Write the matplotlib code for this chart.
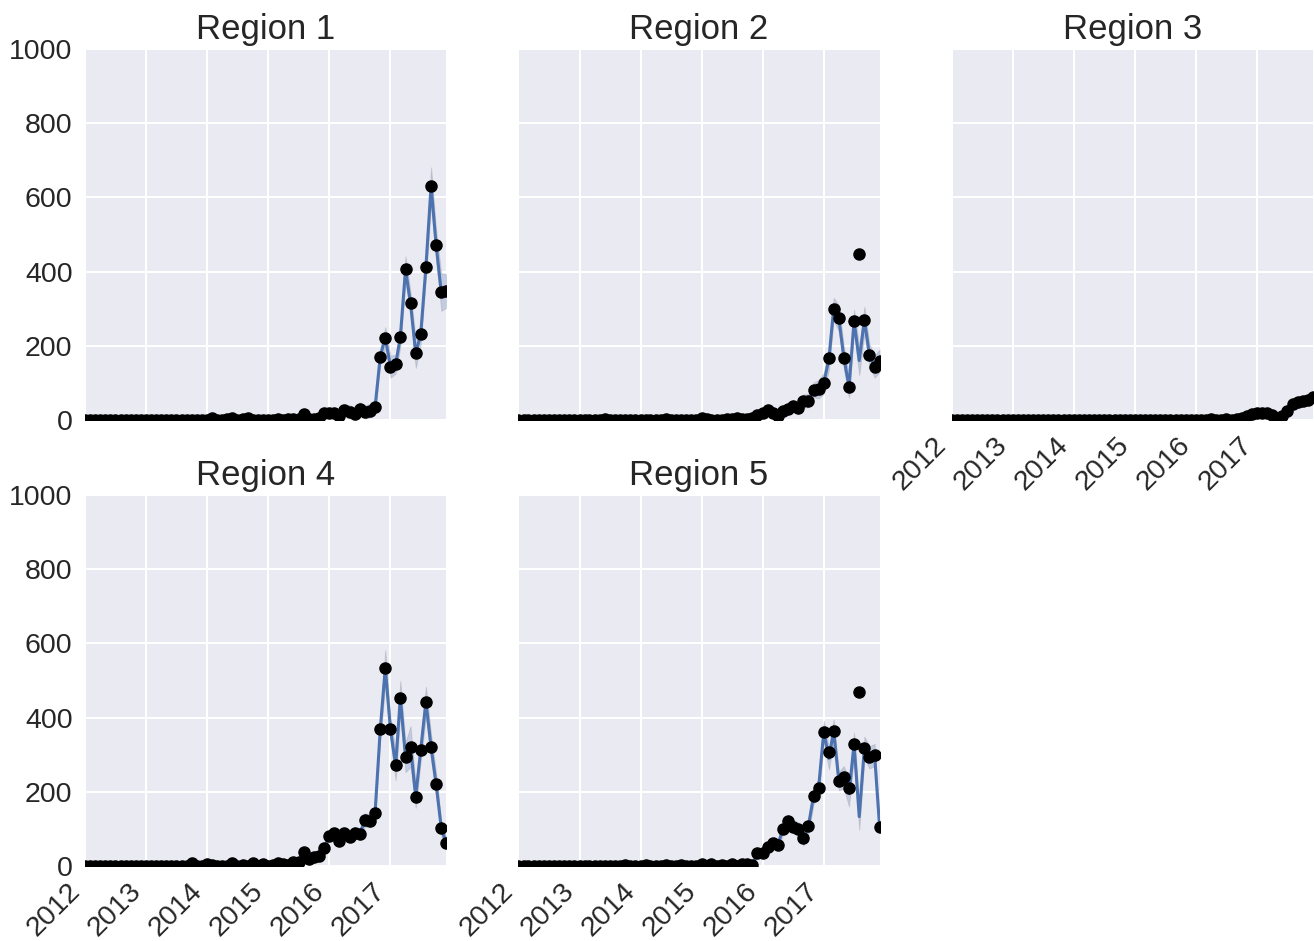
import numpy as np
import pandas as pd
import matplotlib
matplotlib.use("Agg")
import matplotlib.pyplot as plt

# monthly counts, Jan 2012 .. Dec 2017
months = pd.date_range("2012-01-01", periods=72, freq="MS")
tick_years = ["2012", "2013", "2014", "2015", "2016", "2017"]
titles = ["Region 1", "Region 2", "Region 3", "Region 4", "Region 5"]

r1_obs = [0, 0, 0, 0, 0, 0, 0, 0, 0, 0, 0, 0,
          0, 0, 0, 0, 1, 0, 0, 0, 0, 0, 1, 0,
          1, 5, 1, 0, 2, 6, 1, 2, 5, 1, 0, 1,
          0, 1, 3, 1, 2, 4, 2, 15, 2, 3, 5, 20,
          18, 18, 12, 27, 22, 17, 30, 22, 25, 35, 171, 222,
          144, 150, 223, 406, 314, 180, 231, 412, 631, 472, 344, 348]
r1_fit = r1_obs
r1_ci = [1, 1, 1, 1, 1, 1, 1, 1, 1, 1, 1, 1,
         1, 1, 1, 1, 1, 1, 1, 1, 1, 1, 1, 1,
         2, 2, 2, 2, 2, 2, 2, 2, 2, 2, 2, 2,
         2, 2, 2, 2, 2, 3, 3, 5, 4, 5, 6, 10,
         14, 14, 14, 16, 18, 18, 18, 18, 18, 20, 22, 28,
         30, 25, 25, 35, 30, 40, 28, 30, 50, 40, 50, 45]

r2_obs = [0, 0, 0, 0, 0, 0, 0, 0, 0, 0, 0, 0,
          0, 0, 0, 0, 0, 3, 1, 0, 0, 0, 0, 0,
          0, 0, 0, 0, 0, 3, 1, 0, 0, 0, 0, 1,
          5, 4, 1, 0, 1, 2, 2, 5, 3, 2, 6, 13,
          18, 27, 18, 12, 25, 29, 39, 31, 51, 52, 81, 83,
          99, 166, 299, 274, 168, 90, 267, 447, 270, 175, 144, 160]
r2_fit = [0, 0, 0, 0, 0, 0, 0, 0, 0, 0, 0, 0,
          0, 0, 0, 0, 0, 3, 1, 0, 0, 0, 0, 0,
          0, 0, 0, 0, 0, 3, 1, 0, 0, 0, 0, 1,
          5, 4, 1, 0, 1, 2, 2, 5, 3, 2, 6, 13,
          18, 27, 18, 12, 25, 29, 39, 31, 51, 52, 81, 83,
          99, 166, 299, 274, 168, 90, 267, 160, 270, 175, 144, 160]
r2_ci = [1, 1, 1, 1, 1, 1, 1, 1, 1, 1, 1, 1,
         1, 1, 1, 1, 1, 1, 1, 1, 1, 1, 1, 1,
         1, 1, 1, 1, 1, 1, 1, 1, 1, 1, 1, 1,
         2, 2, 2, 2, 2, 2, 2, 3, 3, 3, 5, 8,
         10, 10, 10, 10, 12, 12, 14, 14, 18, 18, 20, 25,
         28, 30, 30, 35, 30, 30, 30, 40, 35, 30, 30, 30]

r3_obs = [0, 0, 0, 0, 0, 0, 0, 0, 0, 0, 0, 0,
          0, 0, 0, 0, 0, 0, 0, 0, 0, 0, 0, 0,
          0, 0, 0, 0, 0, 0, 0, 0, 0, 0, 0, 0,
          0, 0, 0, 0, 0, 0, 0, 0, 0, 0, 0, 0,
          0, 0, 0, 3, 0, 0, 2, 0, 2, 5, 12, 17,
          20, 18, 20, 14, 5, 10, 25, 43, 48, 52, 55, 62]
r3_fit = r3_obs
r3_ci = [0, 0, 0, 0, 0, 0, 0, 0, 0, 0, 0, 0,
         0, 0, 0, 0, 0, 0, 0, 0, 0, 0, 0, 0,
         0, 0, 0, 0, 0, 0, 0, 0, 0, 0, 0, 0,
         1, 1, 1, 1, 1, 1, 1, 1, 1, 1, 1, 1,
         1, 1, 1, 2, 1, 1, 2, 1, 2, 3, 4, 5,
         5, 5, 5, 5, 5, 5, 6, 8, 8, 9, 10, 12]

r4_obs = [0, 0, 0, 0, 0, 0, 0, 0, 0, 0, 0, 0,
          0, 0, 0, 0, 0, 0, 0, 0, 0, 7, 0, 0,
          5, 3, 0, 0, 0, 8, 0, 3, 0, 9, 0, 5,
          0, 4, 7, 5, 3, 12, 10, 37, 18, 23, 27, 48,
          81, 88, 67, 88, 79, 90, 85, 124, 122, 144, 368, 534,
          368, 271, 454, 293, 322, 187, 313, 443, 320, 221, 102, 61]
r4_fit = r4_obs
r4_ci = [1, 1, 1, 1, 1, 1, 1, 1, 1, 1, 1, 1,
         1, 1, 1, 1, 1, 1, 1, 1, 1, 2, 1, 1,
         2, 2, 2, 2, 2, 2, 2, 2, 2, 2, 2, 2,
         2, 2, 3, 3, 3, 4, 4, 6, 5, 6, 7, 10,
         14, 14, 14, 14, 14, 15, 15, 18, 18, 20, 25, 48,
         30, 40, 45, 40, 55, 30, 30, 40, 35, 30, 20, 15]

r5_obs = [0, 0, 0, 0, 0, 0, 0, 0, 0, 0, 0, 0,
          0, 0, 0, 0, 0, 0, 0, 0, 0, 3, 0, 0,
          0, 3, 0, 0, 0, 3, 0, 0, 3, 0, 0, 0,
          5, 0, 6, 0, 4, 0, 5, 0, 5, 6, 3, 34,
          34, 52, 61, 57, 99, 122, 106, 100, 75, 108, 189, 211,
          362, 308, 365, 229, 239, 211, 329, 469, 319, 293, 299, 104]
r5_fit = [0, 0, 0, 0, 0, 0, 0, 0, 0, 0, 0, 0,
          0, 0, 0, 0, 0, 0, 0, 0, 0, 3, 0, 0,
          0, 3, 0, 0, 0, 3, 0, 0, 3, 0, 0, 0,
          5, 0, 6, 0, 4, 0, 5, 0, 5, 6, 3, 34,
          34, 52, 61, 57, 99, 122, 106, 100, 75, 108, 189, 211,
          362, 290, 365, 229, 239, 195, 329, 133, 319, 293, 299, 104]
r5_ci = [1, 1, 1, 1, 1, 1, 1, 1, 1, 1, 1, 1,
         1, 1, 1, 1, 1, 1, 1, 1, 1, 1, 1, 1,
         1, 1, 1, 1, 1, 1, 1, 1, 1, 1, 1, 1,
         2, 2, 2, 2, 2, 2, 2, 2, 2, 2, 2, 8,
         8, 10, 12, 12, 15, 15, 18, 18, 20, 20, 22, 25,
         30, 30, 30, 25, 30, 35, 30, 35, 30, 30, 30, 15]

observed = [r1_obs, r2_obs, r3_obs, r4_obs, r5_obs]
fitted = [r1_fit, r2_fit, r3_fit, r4_fit, r5_fit]
ci = [r1_ci, r2_ci, r3_ci, r4_ci, r5_ci]

plt.rcParams['font.family'] = ['Liberation Sans', 'DejaVu Sans']
text_color = '.15'

fig = plt.figure(figsize=(13.14, 9.41), dpi=100)
axes = fig.subplots(2, 3)
fig.subplots_adjust(left=0.0647, right=0.9992, bottom=0.0797, top=0.948,
                    wspace=0.1994, hspace=0.202)
axes = axes.ravel()
axes[5].remove()

tick_dates = pd.to_datetime([y + "-01-01" for y in tick_years])

for k in range(5):
    ax = axes[k]
    obs = np.array(observed[k], dtype=float)
    fit = np.array(fitted[k], dtype=float)
    band = np.array(ci[k], dtype=float)

    ax.set_facecolor('#EAEAF2')
    for s in ax.spines.values():
        s.set_visible(False)
    ax.grid(True, color='white', linewidth=1.5)
    ax.set_axisbelow(True)

    ax.fill_between(months, fit - band, fit + band, facecolor='#4C72B0',
                    alpha=0.25, edgecolor='0.5', linewidth=0.7)
    ax.plot(months, fit, color='#4C72B0', linewidth=2.2, zorder=3)
    ax.plot(months, obs, 'o', color='black', markersize=8, zorder=4)

    ax.set_xlim(months[0], months[-1])
    ax.set_ylim(0, 1000)
    ax.set_yticks([0, 200, 400, 600, 800, 1000])
    ax.set_xticks(tick_dates)
    ax.set_xticklabels(tick_years, rotation=45, ha='right')
    ax.tick_params(length=0, labelsize=20.5, colors=text_color, pad=9)
    ax.set_title(titles[k], fontsize=25, color=text_color, pad=7)

    if k in (0, 1):
        ax.tick_params(labelbottom=False)
    if k in (1, 2, 4):
        ax.tick_params(labelleft=False)

fig.savefig("out.png", dpi=100)
